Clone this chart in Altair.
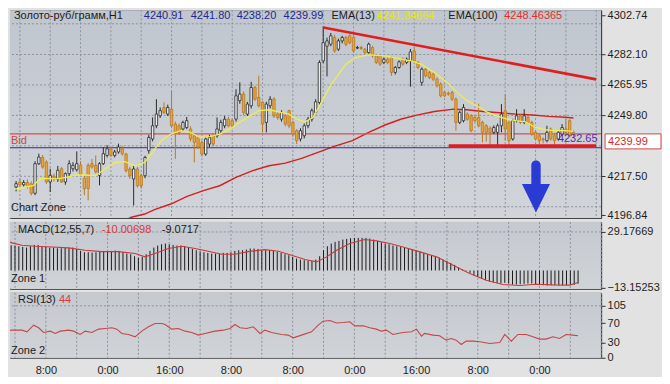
import altair as alt
import pandas as pd

FONT = "Liberation Sans"

# ---------------- data ----------------
bar_index = list(range(-1, 147))
opens = [4211.8, 4214.5, 4213.0, 4214.2, 4213.5, 4208.5, 4224.2, 4227.5, 4225.0, 4214.5,
         4217.5, 4216.0, 4221.5, 4214.5, 4218.9, 4221.5, 4221.0, 4223.5, 4216.5, 4223.3,
         4224.2, 4223.3, 4218.0, 4224.2, 4228.6, 4232.1, 4228.6, 4230.4, 4232.1, 4229.3,
         4221.4, 4216.1, 4221.4, 4217.8, 4217.8, 4231.1, 4237.3, 4244.3, 4249.6, 4254.0,
         4250.5, 4253.1, 4245.2, 4244.3, 4242.6, 4243.4, 4242.6, 4239.0, 4238.1, 4235.5,
         4229.3, 4234.6, 4239.0, 4239.0, 4241.7, 4244.3, 4247.8, 4247.0, 4247.8, 4257.6,
         4261.1, 4250.5, 4254.9, 4264.6, 4259.3, 4256.7, 4246.1, 4254.9, 4258.4, 4250.5,
         4247.8, 4249.6, 4252.3, 4246.1, 4241.7, 4237.3, 4239.0, 4244.3, 4247.8, 4251.4,
         4256.7, 4278.7, 4286.5, 4287.6, 4291.1, 4284.9, 4289.3, 4291.1, 4292.0, 4291.1,
         4285.5, 4285.8, 4284.9, 4283.1, 4285.8, 4281.4, 4281.4, 4277.9, 4279.6, 4280.5,
         4272.6, 4275.2, 4279.6, 4277.9, 4278.7, 4284.0, 4277.9, 4267.3, 4274.3, 4272.6,
         4271.7, 4269.0, 4266.4, 4262.0, 4261.5, 4262.0, 4258.4, 4246.1, 4247.0, 4250.5,
         4249.6, 4248.7, 4248.7, 4246.1, 4244.3, 4243.0, 4240.8, 4240.8, 4244.3, 4252.3,
         4246.1, 4237.3, 4247.0, 4249.6, 4246.1, 4248.7, 4246.1, 4240.8, 4239.0, 4237.3,
         4236.4, 4242.6, 4239.0, 4237.3, 4239.9, 4242.6, 4247.0, 4240.91]
highs = [4215.0, 4216.2, 4215.5, 4215.8, 4214.8, 4225.5, 4229.5, 4228.8, 4226.0, 4221.5,
         4219.0, 4223.0, 4222.5, 4219.5, 4226.0, 4225.0, 4230.7, 4225.5, 4217.5, 4224.5,
         4226.8, 4228.6, 4225.0, 4233.0, 4234.0, 4233.0, 4231.5, 4234.8, 4233.5, 4230.0,
         4222.5, 4223.0, 4222.5, 4219.0, 4228.4, 4239.5, 4248.7, 4258.4, 4254.0, 4256.7,
         4255.5, 4262.8, 4246.5, 4245.5, 4247.0, 4249.0, 4244.0, 4240.5, 4239.0, 4236.5,
         4238.5, 4239.5, 4240.0, 4248.7, 4247.5, 4249.5, 4249.0, 4248.0, 4263.7, 4267.3,
         4262.5, 4257.0, 4267.6, 4265.5, 4270.8, 4257.5, 4257.0, 4260.0, 4259.5, 4251.5,
         4252.5, 4251.0, 4252.8, 4247.0, 4242.5, 4243.0, 4245.5, 4249.0, 4253.5, 4258.4,
         4279.0, 4297.0, 4291.0, 4293.5, 4292.5, 4290.5, 4292.0, 4292.0, 4292.9, 4292.0,
         4286.7, 4286.7, 4285.5, 4288.4, 4286.7, 4282.0, 4282.0, 4280.5, 4280.5, 4281.0,
         4276.0, 4279.0, 4280.5, 4280.5, 4285.0, 4285.8, 4278.7, 4275.2, 4275.0, 4273.5,
         4272.6, 4270.0, 4267.3, 4262.8, 4262.5, 4262.8, 4259.3, 4252.3, 4255.8, 4251.4,
         4250.5, 4249.6, 4256.0, 4247.0, 4245.2, 4244.0, 4244.5, 4245.5, 4255.8, 4261.1,
         4247.0, 4248.0, 4253.1, 4250.5, 4253.1, 4249.6, 4247.0, 4241.7, 4239.9, 4238.1,
         4244.3, 4243.4, 4239.9, 4241.7, 4245.2, 4247.8, 4247.8, 4241.80]
lows = [4209.5, 4212.0, 4211.5, 4211.0, 4207.4, 4207.5, 4223.5, 4221.5, 4213.5, 4209.2,
        4214.8, 4214.5, 4214.0, 4213.0, 4217.5, 4220.0, 4220.0, 4218.0, 4207.4, 4204.8,
        4221.5, 4219.0, 4212.7, 4223.5, 4227.5, 4227.8, 4227.5, 4229.5, 4228.5, 4219.5,
        4216.1, 4202.0, 4211.5, 4211.0, 4216.5, 4229.5, 4236.0, 4243.0, 4248.5, 4250.5,
        4249.5, 4243.5, 4226.7, 4239.5, 4241.5, 4242.5, 4236.0, 4224.9, 4232.0, 4228.0,
        4228.4, 4233.0, 4233.5, 4238.0, 4240.5, 4243.0, 4243.5, 4243.0, 4246.5, 4256.0,
        4250.0, 4249.5, 4253.5, 4257.5, 4254.0, 4240.8, 4240.8, 4253.5, 4248.5, 4247.5,
        4246.5, 4244.0, 4243.0, 4238.5, 4234.6, 4236.0, 4237.6, 4243.0, 4246.5, 4250.5,
        4255.5, 4277.5, 4270.5, 4286.5, 4283.0, 4284.0, 4288.0, 4286.5, 4287.5, 4283.0,
        4284.9, 4284.5, 4282.5, 4282.5, 4280.5, 4277.0, 4276.0, 4277.0, 4277.0, 4270.8,
        4271.5, 4274.5, 4276.0, 4277.0, 4265.0, 4277.5, 4274.3, 4265.5, 4270.0, 4269.0,
        4268.0, 4264.6, 4259.3, 4259.5, 4260.2, 4257.5, 4241.7, 4245.2, 4246.1, 4247.0,
        4240.8, 4246.1, 4243.5, 4235.5, 4236.0, 4234.0, 4239.9, 4234.0, 4240.8, 4236.4,
        4233.7, 4236.4, 4246.1, 4245.2, 4245.2, 4245.2, 4239.0, 4236.4, 4234.5, 4235.0,
        4235.5, 4236.4, 4234.2, 4236.4, 4239.0, 4240.0, 4238.5, 4238.20]
closes = [4213.6, 4213.0, 4214.2, 4212.0, 4208.5, 4224.2, 4227.7, 4222.4, 4214.5, 4218.0,
          4216.0, 4220.7, 4214.5, 4218.9, 4224.2, 4223.3, 4224.2, 4218.5, 4210.9, 4211.0,
          4222.4, 4219.8, 4224.2, 4229.5, 4232.1, 4228.6, 4230.4, 4233.0, 4229.5, 4220.5,
          4217.8, 4221.4, 4212.5, 4212.5, 4227.5, 4238.1, 4244.3, 4250.5, 4252.3, 4251.4,
          4254.0, 4244.3, 4240.8, 4240.8, 4246.1, 4247.0, 4237.3, 4235.5, 4232.9, 4229.3,
          4237.3, 4238.1, 4234.6, 4242.6, 4246.1, 4247.8, 4244.3, 4244.3, 4260.2, 4261.1,
          4251.4, 4255.8, 4264.6, 4258.4, 4254.9, 4245.2, 4255.8, 4258.4, 4249.6, 4248.7,
          4251.4, 4245.2, 4244.3, 4239.9, 4236.4, 4241.7, 4244.3, 4247.8, 4252.3, 4257.0,
          4277.9, 4288.4, 4289.3, 4292.0, 4284.0, 4289.3, 4291.1, 4287.5, 4288.4, 4284.0,
          4285.8, 4285.3, 4283.1, 4287.6, 4281.4, 4277.9, 4277.0, 4279.6, 4277.9, 4272.6,
          4275.2, 4278.2, 4277.0, 4279.6, 4283.5, 4278.7, 4275.2, 4274.3, 4270.8, 4269.9,
          4269.0, 4265.5, 4260.2, 4260.2, 4261.1, 4258.4, 4246.1, 4251.4, 4254.0, 4247.8,
          4241.7, 4247.0, 4244.3, 4240.8, 4240.8, 4240.8, 4243.4, 4244.3, 4250.5, 4242.6,
          4236.4, 4247.0, 4249.6, 4246.1, 4249.6, 4246.1, 4239.9, 4237.3, 4236.4, 4236.9,
          4240.8, 4237.3, 4236.4, 4240.8, 4243.4, 4240.8, 4239.0, 4239.99]

ema13_idx = [-1.5, 0.95, 3.5, 5.3, 7.0, 9.6, 12.2, 14.8, 17.3, 19.9, 22.5, 25.1, 27.7, 30.3,
             32.9, 34.6, 37.2, 39.8, 42.4, 45.0, 47.5, 50.1, 52.7, 55.3, 57.9, 60.5, 63.1,
             65.7, 68.3, 70.9, 73.4, 75.2, 77.3, 79.5, 81.6, 83.4, 86.0, 88.5, 92.0, 96.3,
             100.6, 103.2, 105.8, 109.3, 112.7, 115.3, 117.9, 120.5, 123.1, 125.7, 128.3,
             130.8, 133.4, 136.0, 138.6, 141.2, 143.8, 146.0]
ema13_val = [4210.6, 4211.7, 4212.5, 4216.1, 4216.4, 4216.1, 4216.9, 4218.2, 4218.2, 4217.8,
             4221.4, 4224.9, 4225.3, 4223.1, 4224.9, 4229.3, 4236.4, 4239.9, 4241.7, 4240.8,
             4238.1, 4238.5, 4239.9, 4242.5, 4246.1, 4249.3, 4252.3, 4252.8, 4251.7, 4250.5,
             4247.5, 4246.4, 4248.7, 4256.7, 4264.6, 4269.9, 4277.0, 4280.5, 4281.9, 4281.4,
             4279.6, 4278.7, 4277.0, 4272.6, 4267.3, 4262.0, 4257.6, 4254.9, 4251.7, 4249.6,
             4247.9, 4247.0, 4246.4, 4243.4, 4242.2, 4241.7, 4241.7, 4241.35]
ema100_idx = [27.0, 29.4, 32.9, 35.5, 39.8, 44.1, 48.4, 52.7, 57.0, 61.4, 65.7, 70.0, 74.3,
              78.6, 82.9, 87.7, 92.0, 96.3, 100.6, 105.0, 109.3, 114.4, 117.9, 122.2, 126.5,
              130.8, 135.2, 139.5, 143.8, 146.0]
ema100_val = [4193.5, 4195.8, 4197.5, 4199.8, 4202.8, 4206.9, 4209.9, 4212.5, 4216.9, 4220.5,
              4223.1, 4224.5, 4227.0, 4230.2, 4233.4, 4236.4, 4240.8, 4244.7, 4247.9, 4250.1,
              4251.9, 4253.1, 4252.8, 4251.9, 4251.2, 4250.5, 4250.0, 4249.3, 4248.8, 4248.46]

macd_hist = [19.10, 18.84, 18.34, 17.83, 17.33, 18.34, 19.35, 19.35, 18.34, 17.83,
             17.33, 17.33, 16.83, 16.83, 17.08, 17.08, 17.33, 16.32, 14.81, 13.80,
             13.80, 13.55, 13.80, 14.31, 14.81, 14.81, 14.81, 15.06, 14.81, 13.80,
             12.80, 12.29, 10.78, 9.77, 10.28, 12.29, 14.81, 17.33, 18.84, 19.85,
             20.36, 19.85, 19.35, 18.84, 18.84, 18.34, 17.33, 16.32, 15.32, 14.31,
             13.80, 13.30, 12.80, 12.80, 12.80, 13.30, 13.30, 13.80, 14.81, 15.32,
             15.32, 15.82, 16.57, 16.57, 16.32, 15.32, 15.32, 15.32, 14.81, 14.06,
             13.30, 12.29, 11.54, 10.28, 9.02, 8.26, 7.76, 7.25, 7.25, 8.26,
             10.78, 15.32, 18.34, 20.36, 21.62, 22.37, 23.38, 23.88, 24.39, 24.64,
             24.64, 24.64, 24.64, 24.14, 23.38, 22.37, 21.36, 20.36, 19.85, 18.84,
             18.34, 17.83, 17.33, 16.57, 15.82, 15.32, 14.31, 13.30, 12.29, 11.54,
             10.78, 9.77, 8.26, 7.25, 5.74, 4.23, 2.21, 0.70, -0.31, -1.82,
             -3.59, -4.85, -6.36, -7.37, -8.37, -9.13, -9.63, -9.89, -9.38, -9.89,
             -10.64, -10.64, -10.39, -10.14, -9.89, -9.89, -10.39, -10.89, -11.15, -11.40,
             -11.15, -11.15, -11.40, -11.40, -11.15, -10.89, -10.89, -10.00698]
signal_idx = [-3.37, -0.8, 1.8, 5.3, 9.6, 13.9, 18.2, 22.5, 26.8, 31.2, 33.7, 36.3, 39.8,
              43.2, 46.7, 50.1, 53.6, 57.0, 60.5, 64.8, 68.3, 71.7, 75.2, 78.2, 80.8, 83.4,
              86.8, 90.7, 93.7, 97.2, 100.6, 105.0, 109.3, 113.6, 117.9, 122.2, 126.5,
              130.8, 135.2, 139.5, 143.8, 146.0]
signal_val = [24.1, 20.9, 19.1, 18.3, 17.8, 17.1, 15.3, 14.3, 14.3, 12.8, 10.3, 12.8, 16.6,
              18.3, 16.6, 14.5, 12.3, 12.3, 14.3, 15.8, 14.5, 11.5, 8.3, 6.5, 10.3, 15.3,
              20.4, 23.4, 22.4, 20.4, 17.8, 14.1, 10.3, 4.0, -2.3, -7.4, -10.6,
              -11.4, -10.4, -10.9, -11.1, -9.0717]

rsi_idx = [-3.0, -0.78, 1.81, 3.11, 4.83, 6.13, 7.42, 9.15, 10.44, 11.74, 13.89, 15.19,
           16.91, 18.21, 19.94, 21.66, 23.39, 25.11, 26.41, 27.7, 29.43, 31.15, 32.88,
           34.61, 36.33, 38.06, 38.92, 40.65, 42.37, 44.1, 45.82, 47.55, 49.28, 51.87,
           54.02, 55.75, 57.04, 58.34, 60.06, 61.79, 63.52, 64.81, 66.54, 69.13, 70.85,
           72.15, 74.3, 76.89, 78.62, 79.91, 81.64, 83.37, 85.1, 86.8, 88.1, 90.3, 92.0,
           93.7, 95.0, 96.3, 98.0, 100.6, 102.8, 104.1, 105.4, 106.2, 108.4, 110.1, 111.8,
           113.1, 114.4, 115.7, 117.0, 118.8, 120.5, 123.1, 125.7, 127.0, 128.7, 130.4,
           132.6, 134.3, 136.0, 137.7, 139.5, 141.2, 142.9, 144.6, 146.0]
rsi_val = [53.5, 55.5, 55.5, 52.2, 65.7, 60.3, 50.8, 53.5, 48.8, 53.5, 55.5, 53.5,
           46.7, 53.5, 50.8, 57.6, 58.9, 60.3, 57.6, 48.8, 46.7, 42.0, 53.5,
           62.3, 69.1, 69.1, 67.1, 57.6, 58.9, 53.5, 50.8, 45.4, 48.8, 53.5,
           55.5, 58.9, 67.1, 60.3, 58.9, 62.3, 48.8, 55.5, 50.8, 46.7, 45.4,
           40.0, 45.4, 52.2, 65.7, 73.8, 75.2, 70.0, 71.1, 72.5, 64.3, 64.3, 60.3,
           57.6, 53.5, 55.5, 46.7, 50.8, 52.2, 57.6, 43.4, 48.8, 45.4, 44.0, 35.2,
           38.6, 35.2, 26.4, 33.2, 33.2, 31.8, 28.5, 30.5, 46.7, 33.2, 46.7,
           46.7, 42.0, 37.3, 37.3, 42.0, 38.6, 46.7, 45.4, 44.0]

price_ticks = [4302.74, 4282.10, 4265.95, 4249.80, 4217.50, 4196.84]
price_grid = [4298.40, 4282.10, 4265.95, 4249.80, 4233.65, 4217.50, 4201.35]
macd_ticks = [29.17669, -13.15253]
macd_grid = [29.17669]
rsi_ticks = [105, 70, 30, 0]
rsi_grid = [105]
time_ticks = [8, 24, 40, 56, 72, 88, 104, 120, 136, 152]
time_labels = ["8:00", "0:00", "16:00", "8:00", "8:00", "0:00", "16:00", "8:00", "0:00", "16:00"]
grid_idx = [0, 8, 16, 24, 32, 40, 48, 56, 64, 72, 80, 88, 96, 104, 112, 120, 128, 136, 144, 152]

bid_price = 4239.99
level_price = 4232.65
support_i0, support_i1, support_p = 113.1, 152.0, 4233.7
trend_i0, trend_i1, trend_p0, trend_p1 = 80.0, 152.0, 4296.4, 4268.9

BLUE, DARK, YELLOW, RED = "#1f2a8c", "#1c1c1c", "#e4e41c", "#e0302a"
header_items = [("Золото-руб/грамм,H1", 4, DARK), ("4240.91", 134, BLUE), ("4241.80", 181, BLUE),
                ("4238.20", 227, BLUE), ("4239.99", 274, BLUE), ("EMA(13)", 322, DARK),
                ("4241.34664", 367, YELLOW), ("EMA(100)", 439, DARK), ("4248.46365", 495, RED)]

# ---------------- layout ----------------
W = 592
H_MAIN, H_MACD, H_RSI = 208, 67, 65
GRID = "#8d949d"

x_scale = alt.Scale(domain=[-1.294, 151.97], nice=False, zero=False)
label_expr = " : ".join(f"datum.value == {v} ? '{t}'" for v, t in zip(time_ticks, time_labels)) + " : ''"
x_axis = alt.Axis(values=time_ticks, labelExpr=label_expr, grid=False, ticks=False, domain=False,
                  labelPadding=7, labelFontSize=11, labelFont=FONT, labelColor="#1e1e1e",
                  labelFlush=False, labelOverlap=False, title=None)


def xq(field, axis=None):
    return alt.X(field, type="quantitative", scale=x_scale, axis=axis, title=None)


def yaxis(values, fmt):
    return alt.Axis(orient="right", values=values, format=fmt, grid=False, tickSize=4,
                    tickColor="#333333", domainColor="#333333", labelPadding=2, labelFontSize=11,
                    labelFont=FONT, labelColor="#1e1e1e", labelFlush=False, labelOverlap=False,
                    title=None)


main_scale = alt.Scale(domain=[4195.41, 4305.55], nice=False, zero=False)
macd_scale = alt.Scale(domain=[-13.909, 36.735], nice=False, zero=False)
rsi_scale = alt.Scale(domain=[-0.61, 131.4], nice=False, zero=False)
main_axis = yaxis(price_ticks, ".2f")
macd_axis = yaxis(macd_ticks, ".5f")
rsi_axis = yaxis(rsi_ticks, "d")


def ym(f):
    return alt.Y(f, type="quantitative", scale=main_scale, axis=main_axis, title=None)


def ymacd(f):
    return alt.Y(f, type="quantitative", scale=macd_scale, axis=macd_axis, title=None)


def yrsi(f):
    return alt.Y(f, type="quantitative", scale=rsi_scale, axis=rsi_axis, title=None)


def text_at(text, x, y, color, size=11, baseline="middle"):
    return alt.Chart(pd.DataFrame({"t": [text]})).mark_text(
        align="left", baseline=baseline, color=color, fontSize=size, font=FONT
    ).encode(x=alt.value(x), y=alt.value(y), text="t:N")


def background(h, top, bottom):
    grad = alt.LinearGradient(gradient="linear", x1=0, x2=0, y1=0, y2=1,
                              stops=[alt.GradientStop(color=top, offset=0),
                                     alt.GradientStop(color=bottom, offset=1)])
    return alt.Chart(pd.DataFrame({"a": [0]})).mark_rect(color=grad).encode(
        x=alt.value(0), x2=alt.value(W), y=alt.value(0), y2=alt.value(h))


vgrid_df = pd.DataFrame({"g": grid_idx})

# ---------------- main panel ----------------
candles = pd.DataFrame({"i": bar_index, "o": opens, "h": highs, "l": lows, "c": closes})
candles["dir"] = ["up" if c >= o else "down" for o, c in zip(opens, closes)]

ema13_df = pd.DataFrame({"i": ema13_idx, "v": ema13_val})
ema100_df = pd.DataFrame({"i": ema100_idx, "v": ema100_val})
bid_df = pd.DataFrame({"p": [bid_price], "t": [f"{bid_price:.2f}"], "b": ["Bid"]})
level_df = pd.DataFrame({"i": [141.9], "p": [level_price], "t": [f"{level_price:.2f}"]})
support_df = pd.DataFrame({"i0": [support_i0], "i1": [support_i1], "p": [support_p]})
trend_df = pd.DataFrame({"i0": [trend_i0], "i1": [trend_i1], "p0": [trend_p0], "p1": [trend_p1]})

dir_dom = ["up", "down"]
main_layers = [
    background(H_MAIN, "#c0c6cf", "#d1d4d9"),
    alt.Chart(vgrid_df).mark_rule(color=GRID, strokeDash=[2, 2], strokeWidth=1).encode(x=xq("g")),
    alt.Chart(pd.DataFrame({"p": price_grid})).mark_rule(color=GRID, strokeDash=[2, 2], strokeWidth=1).encode(y=ym("p")),
    alt.Chart(ema100_df).mark_line(color="#d42020", strokeWidth=1.4, clip=True).encode(x=xq("i"), y=ym("v")),
    alt.Chart(bid_df).mark_rule(color="#cf5252", strokeWidth=1.3).encode(y=ym("p")),
    alt.Chart(pd.DataFrame({"p": [level_price]})).mark_rule(color="#4a1f9e", strokeWidth=1).encode(y=ym("p")),
    alt.Chart(candles).mark_rule(strokeWidth=1, clip=True).encode(
        x=xq("i"), y=ym("l"), y2="h",
        color=alt.Color("dir:N", scale=alt.Scale(domain=dir_dom, range=["#2a2a2a", "#b8791f"]), legend=None)),
    alt.Chart(candles).mark_bar(size=2.4, strokeWidth=0.8, clip=True).encode(
        x=xq("i"), y=ym("o"), y2="c",
        fill=alt.Fill("dir:N", scale=alt.Scale(domain=dir_dom, range=["#e9ebee", "#eba43a"]), legend=None),
        stroke=alt.Stroke("dir:N", scale=alt.Scale(domain=dir_dom, range=["#2a2a2a", "#b8791f"]), legend=None)),
    alt.Chart(ema13_df).mark_line(color="#eeee4c", strokeWidth=1.3, clip=True).encode(x=xq("i"), y=ym("v")),
    alt.Chart(support_df).mark_rule(color="#e21d1d", strokeWidth=3, clip=True).encode(
        x=xq("i0"), x2="i1", y=ym("p")),
    alt.Chart(trend_df).mark_rule(color="#e21d1d", strokeWidth=2.6, clip=True).encode(
        x=xq("i0"), x2="i1", y=ym("p0"), y2="p1"),
    alt.Chart(level_df).mark_text(align="left", baseline="middle", dy=-9, color="#5a2ca8",
                                  fontSize=11, font=FONT).encode(x=xq("i"), y=ym("p"), text="t:N"),
    alt.Chart(bid_df).mark_text(align="left", baseline="middle", dy=7, color="#c84848",
                                fontSize=11, font=FONT).encode(x=alt.value(1), y=ym("p"), text="b:N"),
    alt.Chart(bid_df).mark_rect(fill="white", stroke="#d04848", strokeWidth=1, y2Offset=15).encode(
        x=alt.value(W + 4), x2=alt.value(W + 60), y=ym("p"), y2="p"),
    alt.Chart(bid_df).mark_text(align="left", baseline="middle", dy=8, color="#d02828",
                                fontSize=11, font=FONT).encode(x=alt.value(W + 7), y=ym("p"), text="t:N"),
    alt.Chart(pd.DataFrame({"a": [0]})).mark_point(
        shape="M-0.18,-0.82A0.18,0.18,0,0,1,0.18,-0.82L0.18,-0.1L0.54,-0.1L0,1L-0.54,-0.1L-0.18,-0.1Z",
        size=2704, filled=True, fill="#2a3bd4", strokeWidth=0, opacity=1
    ).encode(x=alt.value(526.8), y=alt.value(176.5)),
    text_at("Chart Zone", 1, 198, DARK),
]
for t, x, c in header_items:
    main_layers.append(text_at(t, x, 0, c, baseline="top"))

main = alt.layer(*main_layers).properties(width=W, height=H_MAIN)

# ---------------- MACD panel ----------------
macd_df = pd.DataFrame({"i": bar_index, "m": macd_hist, "z": [0.0] * len(bar_index)})
signal_df = pd.DataFrame({"i": signal_idx, "v": signal_val})
macd = alt.layer(
    background(H_MACD, "#c5c9d0", "#d0d3d7"),
    alt.Chart(vgrid_df).mark_rule(color=GRID, strokeDash=[2, 2], strokeWidth=1).encode(x=xq("g")),
    alt.Chart(pd.DataFrame({"v": macd_grid})).mark_rule(color=GRID, strokeDash=[2, 2], strokeWidth=1).encode(y=ymacd("v")),
    alt.Chart(macd_df).mark_rule(color="#1a1a1a", strokeWidth=1, clip=True).encode(x=xq("i"), y=ymacd("m"), y2="z"),
    alt.Chart(signal_df).mark_line(color="#c83a3a", strokeWidth=1.1, clip=True).encode(x=xq("i"), y=ymacd("v")),
    text_at("MACD(12,55,7)", 8, 8, DARK),
    text_at("-10.00698", 92, 8, "#d43c3c"),
    text_at("-9.0717", 152, 8, DARK),
    text_at("Zone 1", 1, 57.5, DARK),
).properties(width=W, height=H_MACD)

# ---------------- RSI panel ----------------
rsi_df = pd.DataFrame({"i": rsi_idx, "v": rsi_val})
rsi = alt.layer(
    background(H_RSI, "#c5c9d0", "#d0d3d7"),
    alt.Chart(vgrid_df).mark_rule(color=GRID, strokeDash=[2, 2], strokeWidth=1).encode(x=xq("g", x_axis)),
    alt.Chart(pd.DataFrame({"v": rsi_grid})).mark_rule(color=GRID, strokeDash=[2, 2], strokeWidth=1).encode(y=yrsi("v")),
    alt.Chart(rsi_df).mark_line(color="#c44848", strokeWidth=1.1, clip=True).encode(x=xq("i", x_axis), y=yrsi("v")),
    text_at("RSI(13)", 8, 7.5, DARK),
    text_at("44", 49, 7.5, "#d43c3c"),
    text_at("Zone 2", 1, 58, DARK),
).properties(width=W, height=H_RSI)

chart = alt.vconcat(main, macd, rsi, spacing=4, bounds="flush").properties(
    padding=0, background="#e2e2e2"
).configure_view(stroke="#3c3c3c", strokeWidth=1)

chart.save("out.html", embed_options={"renderer": "svg", "actions": False})
